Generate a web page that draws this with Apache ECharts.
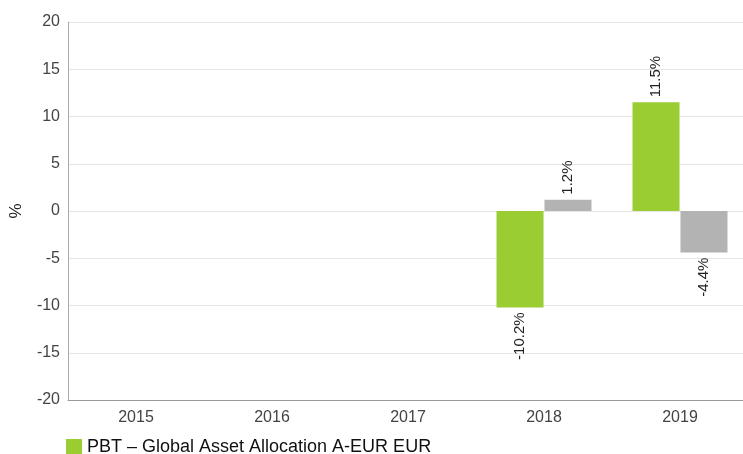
<!DOCTYPE html>
<head>
    <title>ECharts</title>
    <script src="https://cdn.jsdelivr.net/npm/echarts@6/dist/echarts.min.js"></script>
</head>
<body style="margin:0">
    <div id="main" style="width:743px;height:454px"></div>
    <script type="text/javascript">
        var years = ['2015', '2016', '2017', '2018', '2019'];
        var fundName = 'PBT – Global Asset Allocation A-EUR EUR';
        var fundValues = [null, null, null, -10.2, 11.5];
        var benchName = 'Benchmark';
        var benchValues = [null, null, null, 1.2, -4.4];
        var yTicks = [-20, -15, -10, -5, 0, 5, 10, 15, 20];

        // label above positive bars, below negative ones
        function withLabels(vals) {
            return vals.map(function (v) {
                if (v === null) return null;
                var pos = v >= 0;
                return {
                    value: v,
                    label: {
                        position: pos ? 'top' : 'bottom',
                        align: pos ? 'left' : 'right'
                    }
                };
            });
        }

        var myChart = echarts.init(document.getElementById('main'));

        var labelStyle = {
            show: true,
            rotate: 90,
            verticalAlign: 'middle',
            distance: 5,
            color: '#222',
            fontSize: 15,
            fontFamily: 'Liberation Sans',
            formatter: function (p) { return p.value.toFixed(1) + '%'; }
        };

        var option = {
            animation: false,
            textStyle: {fontFamily: 'Liberation Sans'},
            grid: {left: 68, top: 22, width: 680, bottom: 54, containLabel: false, outerBoundsMode: 'none'},
            legend: {
                data: [fundName],
                left: 61, top: 433,
                itemWidth: 16, itemHeight: 16,
                itemGap: 10,
                icon: 'rect',
                textStyle: {fontSize: 18, color: '#111', fontFamily: 'Liberation Sans'}
            },
            xAxis: {
                type: 'category',
                data: years,
                axisLine: {onZero: false, lineStyle: {color: '#999'}},
                axisTick: {show: false},
                axisLabel: {color: '#444', fontSize: 16, margin: 10}
            },
            yAxis: {
                type: 'value',
                min: yTicks[0],
                max: yTicks[yTicks.length - 1],
                interval: 5,
                name: '%',
                nameLocation: 'middle',
                nameGap: 43,
                nameTextStyle: {fontSize: 17, color: '#222'},
                axisLine: {show: true, lineStyle: {color: '#aaa'}},
                axisTick: {show: false},
                axisLabel: {color: '#444', fontSize: 16, margin: 8},
                splitLine: {lineStyle: {color: '#e6e6e6'}}
            },
            series: [
                {
                    name: fundName,
                    type: 'bar',
                    barWidth: 47,
                    barGap: '2%',
                    itemStyle: {color: '#9ACD32'},
                    label: labelStyle,
                    data: withLabels(fundValues)
                },
                {
                    name: benchName,
                    type: 'bar',
                    barWidth: 47,
                    itemStyle: {color: '#B3B3B3'},
                    label: labelStyle,
                    data: withLabels(benchValues)
                }
            ]
        };

        myChart.setOption(option);
    </script>
</body>
